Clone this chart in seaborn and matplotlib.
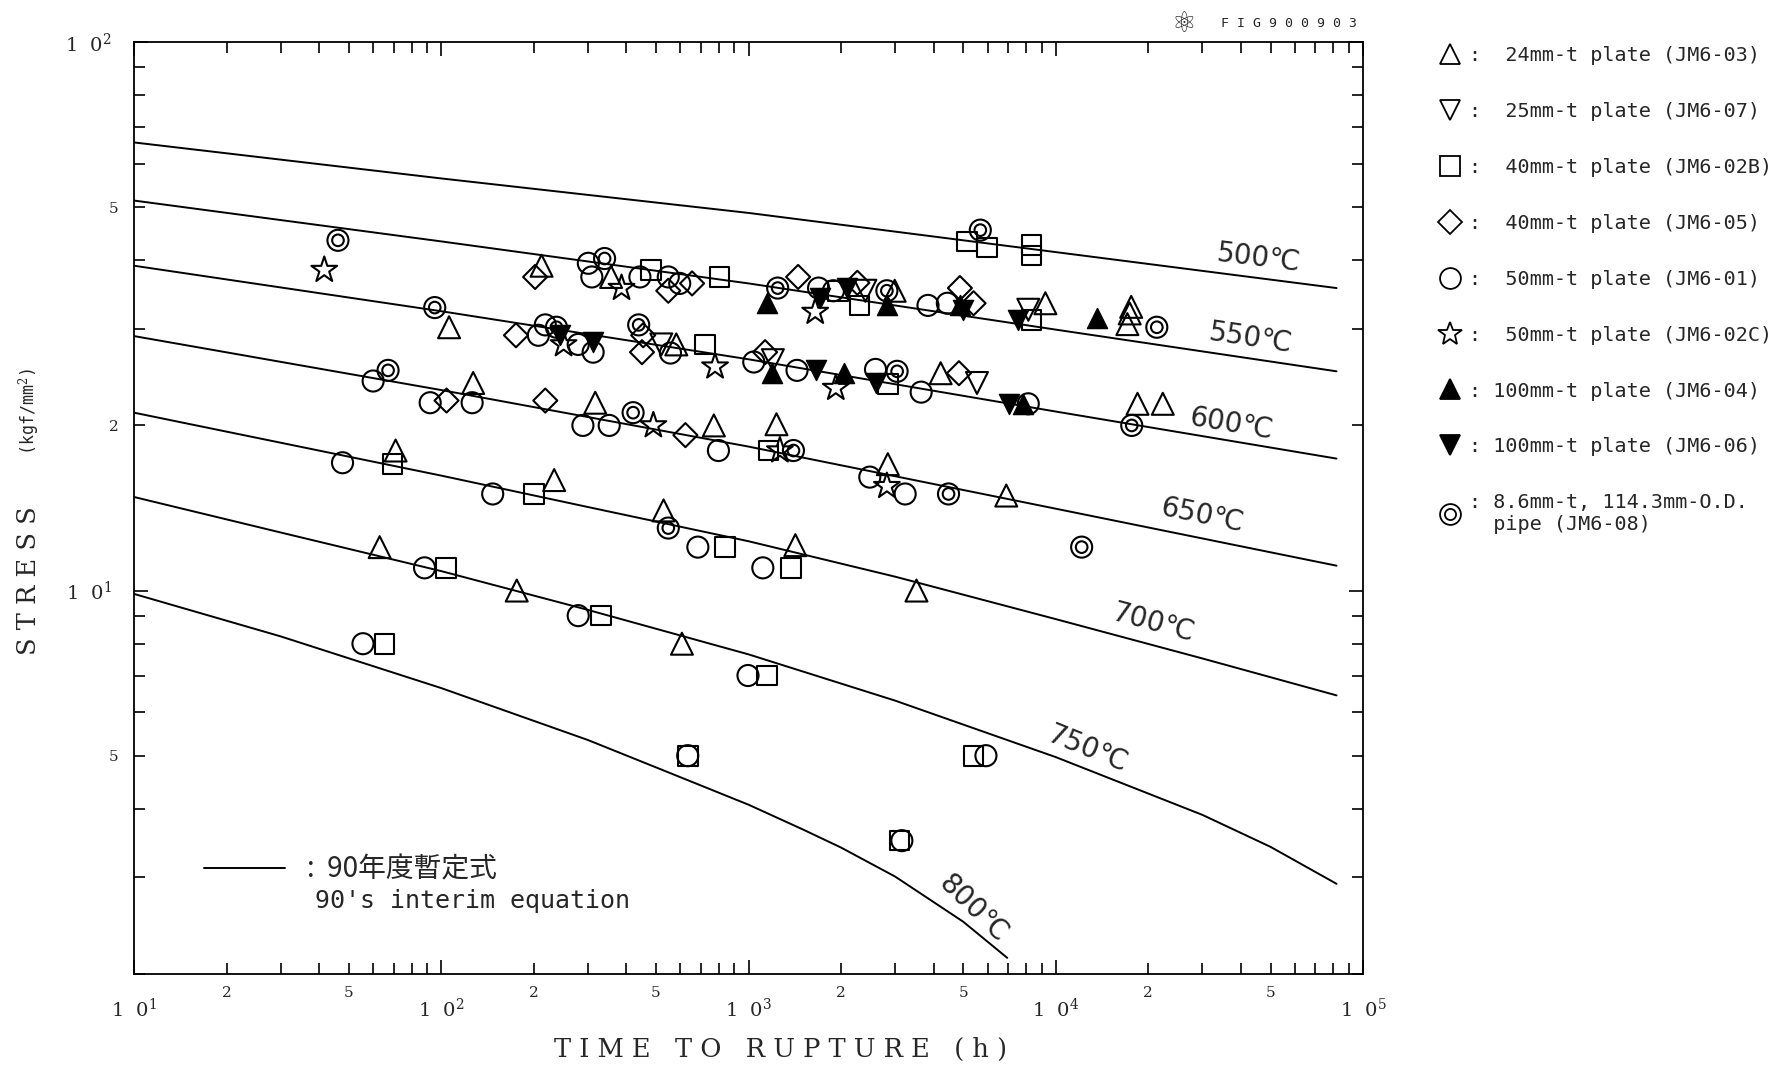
import matplotlib
matplotlib.use('Agg')
import matplotlib.pyplot as plt
from matplotlib.lines import Line2D
from matplotlib.legend_handler import HandlerTuple
import matplotlib.ticker as mticker
import seaborn as sns

# 90's interim equation, one curve per temperature (time h, stress kgf/mm2)
t_500 = [10, 100, 1000, 10000, 82000]
s_500 = [65.6, 56.4, 48.8, 41.4, 35.6]
t_550 = [10, 100, 1000, 10000, 82000]
s_550 = [51.4, 43.3, 36.3, 29.9, 25.1]
t_600 = [10, 100, 1000, 10000, 82000]
s_600 = [39.1, 32.3, 26.4, 21.2, 17.4]
t_650 = [10, 100, 1000, 10000, 82000]
s_650 = [29.1, 23.2, 18.3, 14.1, 11.1]
t_700 = [10, 30, 100, 300, 1000, 3000, 10000, 30000, 82000]
s_700 = [21.1, 18.6, 16.2, 14.2, 12.3, 10.6, 8.87, 7.52, 6.44]
t_750 = [10, 30, 100, 300, 1000, 3000, 10000, 30000, 50000, 82000]
s_750 = [14.81, 12.76, 10.85, 9.22, 7.65, 6.30, 4.97, 3.90, 3.41, 2.92]
t_800 = [10, 30, 100, 300, 500, 1000, 1500, 2000, 3000, 5000, 6950]
s_800 = [9.86, 8.25, 6.64, 5.34, 4.76, 4.07, 3.67, 3.40, 3.01, 2.49, 2.14]

curve_names = ['500℃', '550℃', '600℃', '650℃', '700℃', '750℃', '800℃']
label_t = [45600, 43000, 37200, 29800, 20800, 12700, 5400]
label_s = [40.3, 28.8, 20.1, 13.7, 8.71, 5.14, 2.63]

# test data per specimen
t_jm603 = [212, 357, 2990, 9250, 17100, 17400, 17600, 106, 582, 4220, 18450, 22300,
           127, 317, 771, 1233, 2840, 6900, 71, 233, 529, 1420, 3520, 63, 176, 607]
s_jm603 = [39.1, 37.3, 35.2, 33.4, 30.6, 32.0, 32.9, 30.2, 28.1, 24.9, 21.9, 21.9,
           23.9, 22.0, 20.0, 20.1, 17.0, 14.9, 18.0, 15.9, 14.0, 12.1, 10.0, 12.0, 10.0, 8.0]

t_jm607 = [2400, 8140, 520, 1200, 5540]
s_jm607 = [35.2, 32.5, 28.1, 26.3, 23.9]

t_jm602b = [5130, 5980, 8340, 8340, 482, 804, 1955, 2298, 8340, 720, 2843, 1161,
            69.4, 200, 840, 1377, 103.7, 331, 1151, 65.4, 634, 5400, 3100]
s_jm602b = [43.3, 42.2, 42.7, 40.8, 38.4, 37.3, 35.2, 33.1, 31.1, 28.1, 23.8, 18.0,
            17.0, 15.0, 12.0, 11.0, 11.0, 9.0, 7.0, 8.0, 5.0, 5.0, 3.5]

t_jm605 = [202, 548, 655, 1450, 2260, 4875, 5400, 175, 454, 450, 1132, 4840, 104, 218, 623]
s_jm605 = [37.3, 35.2, 36.3, 37.3, 36.4, 35.6, 33.4, 29.2, 29.2, 27.2, 27.2, 24.9,
           22.2, 22.2, 19.2]

t_jm601 = [301, 309, 443, 548, 597, 1690, 1889, 3838, 4437,
           218, 207, 279, 312, 557, 1040, 1438, 2590, 3646, 8135,
           60, 92, 126, 289, 352, 798, 2481, 3234,
           47.7, 147, 684, 1113, 88.2, 279, 996, 55.6, 634, 5925, 3155]
s_jm601 = [39.5, 37.3, 37.3, 37.3, 36.3, 35.6, 35.2, 33.1, 33.4,
           30.5, 29.2, 28.1, 27.2, 27.1, 26.1, 25.2, 25.3, 23.0, 21.9,
           24.1, 22.0, 22.0, 20.0, 20.0, 18.0, 16.1, 15.0,
           17.1, 15.0, 12.0, 11.0, 11.0, 9.0, 7.0, 8.0, 5.0, 5.0, 3.5]

t_jm602c = [41.6, 386, 1648, 250, 778, 1923, 490, 1265, 2820]
s_jm602c = [38.4, 35.6, 32.2, 28.1, 25.6, 23.4, 20.0, 18.0, 15.5]

t_jm604 = [1151, 2820, 4875, 13580, 1191, 2040, 7795]
s_jm604 = [33.4, 33.1, 33.1, 31.4, 24.9, 24.9, 21.9]

t_jm606 = [1706, 2094, 5000, 7535, 243, 312, 1663, 2590, 7035]
s_jm606 = [34.1, 35.6, 32.5, 31.1, 29.2, 28.4, 25.2, 23.9, 21.9]

t_jm608 = [5680, 46.1, 340, 1244, 2820, 21320, 95.2, 237, 439, 3045, 17670,
           67.1, 421, 1400, 4476, 548, 12140]
s_jm608 = [45.4, 43.5, 40.3, 35.6, 35.2, 30.2, 32.8, 30.2, 30.5, 25.1, 20.0,
           25.2, 21.1, 18.0, 15.0, 13.0, 12.0]

legend_labels = [':  24mm-t plate (JM6-03)',
                 ':  25mm-t plate (JM6-07)',
                 ':  40mm-t plate (JM6-02B)',
                 ':  40mm-t plate (JM6-05)',
                 ':  50mm-t plate (JM6-01)',
                 ':  50mm-t plate (JM6-02C)',
                 ': 100mm-t plate (JM6-04)',
                 ': 100mm-t plate (JM6-06)',
                 ': 8.6mm-t, 114.3mm-O.D.\n  pipe (JM6-08)']

sns.set_style('ticks')
plt.rcParams['font.family'] = ['DejaVu Serif', 'Noto Sans CJK JP']
plt.rcParams['mathtext.fontset'] = 'dejavuserif'

fig = plt.figure(figsize=(17.85, 10.69), dpi=100)
ax = fig.add_axes([0.0751, 0.0889, 0.6885, 0.8718])
ax.set_xscale('log')
ax.set_yscale('log')

curves = [(t_500, s_500), (t_550, s_550), (t_600, s_600), (t_650, s_650),
          (t_700, s_700), (t_750, s_750), (t_800, s_800)]
for t, s in curves:
    sns.lineplot(x=t, y=s, ax=ax, color='black', linewidth=1.4,
                 estimator=None, sort=False)

label_rot = [-7, -8.5, -9.5, -11.5, -15, -22, -44]
for name, tx, sy, rot in zip(curve_names, label_t, label_s, label_rot):
    ax.text(tx, sy, name, rotation=rot, ha='center', va='center', fontsize=20,
            family=['Liberation Sans Narrow', 'DejaVu Sans'], rotation_mode='anchor')

hollow = dict(facecolor='none', edgecolor='black', linewidth=1.5)
solid = dict(facecolor='black', edgecolor='black', linewidth=1.0)
sns.scatterplot(x=t_jm603, y=s_jm603, ax=ax, marker='^', s=250, **hollow)
sns.scatterplot(x=t_jm607, y=s_jm607, ax=ax, marker='v', s=250, **hollow)
sns.scatterplot(x=t_jm602b, y=s_jm602b, ax=ax, marker='s', s=200, **hollow)
sns.scatterplot(x=t_jm605, y=s_jm605, ax=ax, marker='D', s=150, **hollow)
sns.scatterplot(x=t_jm601, y=s_jm601, ax=ax, marker='o', s=230, **hollow)
sns.scatterplot(x=t_jm602c, y=s_jm602c, ax=ax, marker='*', s=380, **hollow)
sns.scatterplot(x=t_jm604, y=s_jm604, ax=ax, marker='^', s=210, **solid)
sns.scatterplot(x=t_jm606, y=s_jm606, ax=ax, marker='v', s=210, **solid)
sns.scatterplot(x=t_jm608, y=s_jm608, ax=ax, marker='o', s=230, **hollow)
sns.scatterplot(x=t_jm608, y=s_jm608, ax=ax, marker='o', s=70, **hollow)

ax.set_xlim(10, 1e5)
ax.set_ylim(2, 100)

# ticks
xmaj = [10, 100, 1000, 10000, 100000]
xmin = [k * 10 ** d for d in range(1, 5) for k in range(2, 10)]
ax.xaxis.set_major_locator(mticker.FixedLocator(xmaj))
ax.xaxis.set_major_formatter(mticker.FixedFormatter(
    [r'$\mathregular{1\ \ 0^{%d}}$' % d for d in range(1, 6)]))
ax.xaxis.set_minor_locator(mticker.FixedLocator(xmin))
ax.xaxis.set_minor_formatter(mticker.FixedFormatter(
    [str(v)[0] if str(v)[0] in '25' else '' for v in xmin]))
ymaj = [10, 100]
ymin = [k * 10 ** d for d in range(0, 2) for k in range(2, 10)]
ax.yaxis.set_major_locator(mticker.FixedLocator(ymaj))
ax.yaxis.set_major_formatter(mticker.FixedFormatter(
    [r'$\mathregular{1\ \ 0^{1}}$', r'$\mathregular{1\ \ 0^{2}}$']))
ax.yaxis.set_minor_locator(mticker.FixedLocator(ymin))
ax.yaxis.set_minor_formatter(mticker.FixedFormatter(
    ['' if v == 2 else str(v)[0] if str(v)[0] in '25' else '' for v in ymin]))
ax.tick_params(which='both', direction='in', top=True, right=True, color='black',
               width=1.2)
ax.tick_params(which='major', length=10)
ax.tick_params(which='minor', length=8)
ax.tick_params(axis='x', which='major', pad=17, labelsize=14)
ax.tick_params(axis='x', which='minor', pad=9, labelsize=11)
ax.tick_params(axis='y', which='major', pad=16, labelsize=14)
ax.tick_params(axis='y', which='minor', pad=11, labelsize=11)
for sp in ax.spines.values():
    sp.set_linewidth(1.3)
    sp.set_color('black')

fig.text(0.437, 0.018, 'T I M E   T O   R U P T U R E   ( h )', ha='center',
         va='center', fontsize=18.5)
fig.text(0.016, 0.457, 'S T R E S S', rotation=90, ha='center', va='center',
         fontsize=18.5)
fig.text(0.016, 0.615, r'(kgf/mm$^2$)', rotation=90, ha='center', va='center',
         fontsize=12, family='DejaVu Sans Mono')

# specimen legend
mk = dict(linestyle='none', markeredgecolor='black', markeredgewidth=1.3)
handles = [Line2D([], [], marker='^', ms=15, mfc='none', **mk),
           Line2D([], [], marker='v', ms=15, mfc='none', **mk),
           Line2D([], [], marker='s', ms=14, mfc='none', **mk),
           Line2D([], [], marker='D', ms=12, mfc='none', **mk),
           Line2D([], [], marker='o', ms=15, mfc='none', **mk),
           Line2D([], [], marker='*', ms=18, mfc='none', **mk),
           Line2D([], [], marker='^', ms=14, mfc='black', **mk),
           Line2D([], [], marker='v', ms=14, mfc='black', **mk),
           (Line2D([], [], marker='o', ms=15, mfc='none', **mk),
            Line2D([], [], marker='o', ms=8, mfc='none', **mk))]
leg = ax.legend(handles, legend_labels, loc='upper left',
                bbox_to_anchor=(0.799, 0.966), bbox_transform=fig.transFigure,
                frameon=False, handlelength=1.4, handletextpad=0.2,
                borderpad=0, labelspacing=1.83,
                prop={'family': 'DejaVu Sans Mono', 'size': 14.5},
                handler_map={tuple: HandlerTuple(ndivide=1)})
ax.add_artist(leg)

# equation legend
eq_handle = Line2D([], [], color='black', linewidth=1.4)
ax.legend([eq_handle], [':  90年度暫定式'], loc='upper left',
          bbox_to_anchor=(0.046, 0.143), frameon=False, handlelength=2.9,
          handletextpad=0.8, borderpad=0,
          prop={'family': ['Noto Sans CJK JP', 'DejaVu Sans'], 'size': 20})
ax.text(0.147, 0.078, "90's interim equation", transform=ax.transAxes,
        ha='left', va='center', fontsize=18, family='DejaVu Sans Mono')

fig.text(0.663, 0.978, '⚛', fontsize=20, family='DejaVu Sans', ha='center',
         va='center')
fig.text(0.684, 0.978, 'F I G 9 0 0 9 0 3', fontsize=9.5, family='DejaVu Sans Mono',
         ha='left', va='center')

fig.savefig('out.png', dpi=100)
